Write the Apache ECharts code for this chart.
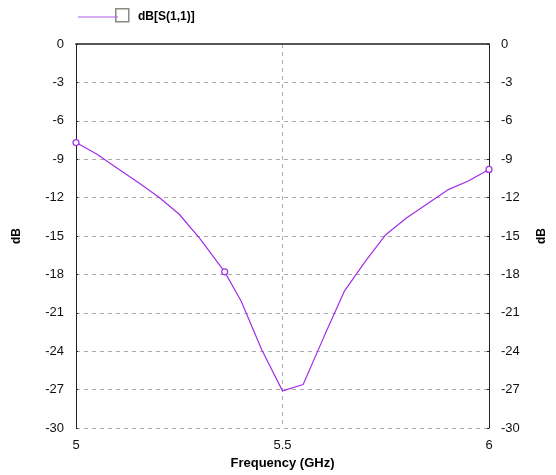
<!DOCTYPE html>
<html>
<head>
<meta charset="utf-8">
<script src="https://cdn.jsdelivr.net/npm/echarts@6/dist/echarts.min.js"></script>
<style>
  html, body { margin: 0; padding: 0; background: #fff; }
  #main { width: 556px; height: 475px; }
</style>
</head>
<body>
<div id="main"></div>
<script>
const main = document.getElementById('main')
let myChart = echarts.init(main)

// frequency (GHz) and S11 (dB)
let freq = [5.00, 5.05, 5.10, 5.15, 5.20, 5.25, 5.30, 5.36, 5.40, 5.45, 5.50,
            5.55, 5.60, 5.65, 5.70, 5.75, 5.80, 5.85, 5.90, 5.95, 6.00]
let s11 = [-7.7, -8.6, -9.7, -10.8, -11.95, -13.3, -15.2, -17.8, -20.1, -23.9, -27.1,
           -26.6, -22.9, -19.3, -17.0, -14.9, -13.6, -12.5, -11.4, -10.7, -9.8]
let markerFreqs = [5.00, 5.36, 6.00]
let yTicks = [0, -3, -6, -9, -12, -15, -18, -21, -24, -27, -30]

const purple = '#a22ee6'
const lineData = freq.map((f, i) => {
  const item = { value: [f, s11[i]] }
  item.symbol = markerFreqs.includes(f) ? 'circle' : 'none'
  return item
})

const yAxisBase = {
  type: 'value',
  min: -30,
  max: 0,
  interval: 3,
  name: 'dB',
  nameLocation: 'middle',
  nameRotate: 90,
  nameTextStyle: { fontFamily: 'Liberation Sans', fontWeight: 'bold', fontSize: 12, color: '#000' },
  axisLine: { show: true, lineStyle: { color: '#222', width: 1 } },
  axisTick: { show: true, inside: true, length: 2, lineStyle: { color: '#222' } },
  axisLabel: {
    fontFamily: 'Liberation Sans', fontSize: 13, color: '#111', margin: 12,
    formatter: v => yTicks.includes(v) ? String(v) : ''
  }
}

myChart.setOption({
  animation: false,
  grid: { left: 76, right: 65, top: 44, bottom: 47 },
  legend: {
    left: 73,
    top: 6,
    itemWidth: 40,
    itemHeight: 1,
    icon: 'rect',
    itemStyle: { color: '#b45cee', borderWidth: 0 },
    data: ['dB[S(1,1)]'],
    textStyle: { fontFamily: 'Liberation Sans', fontWeight: 'bold', fontSize: 12, color: '#000', padding: [0, 0, 0, 15] }
  },
  graphic: [
    {
      type: 'rect',
      left: 115,
      top: 8,
      shape: { width: 13, height: 13 },
      style: { fill: '#fff', stroke: '#8a8a80', lineWidth: 1.5 }
    }
  ],
  xAxis: {
    type: 'value',
    min: 5,
    max: 6,
    interval: 0.5,
    name: 'Frequency (GHz)',
    nameLocation: 'middle',
    nameGap: 29,
    nameTextStyle: { fontFamily: 'Liberation Sans', fontWeight: 'bold', fontSize: 13, color: '#000' },
    axisLine: { lineStyle: { color: '#555', width: 2 } },
    axisTick: { show: false },
    axisLabel: { fontFamily: 'Liberation Sans', fontSize: 13, color: '#111', margin: 11 },
    splitLine: { show: true, lineStyle: { color: '#aaa', type: [4, 4] } }
  },
  yAxis: [
    Object.assign({}, yAxisBase, {
      position: 'left',
      nameGap: 53,
      splitLine: { show: true, lineStyle: { color: '#aaa', type: [4, 4] } }
    }),
    Object.assign({}, yAxisBase, {
      position: 'right',
      nameGap: 47,
      splitLine: { show: false }
    })
  ],
  series: [
    {
      name: 'dB[S(1,1)]',
      type: 'line',
      data: lineData,
      symbolSize: 6,
      itemStyle: { color: '#fff', borderColor: purple, borderWidth: 1.2 },
      lineStyle: { color: purple, width: 1.2 }
    }
  ]
})
</script>
</body>
</html>
